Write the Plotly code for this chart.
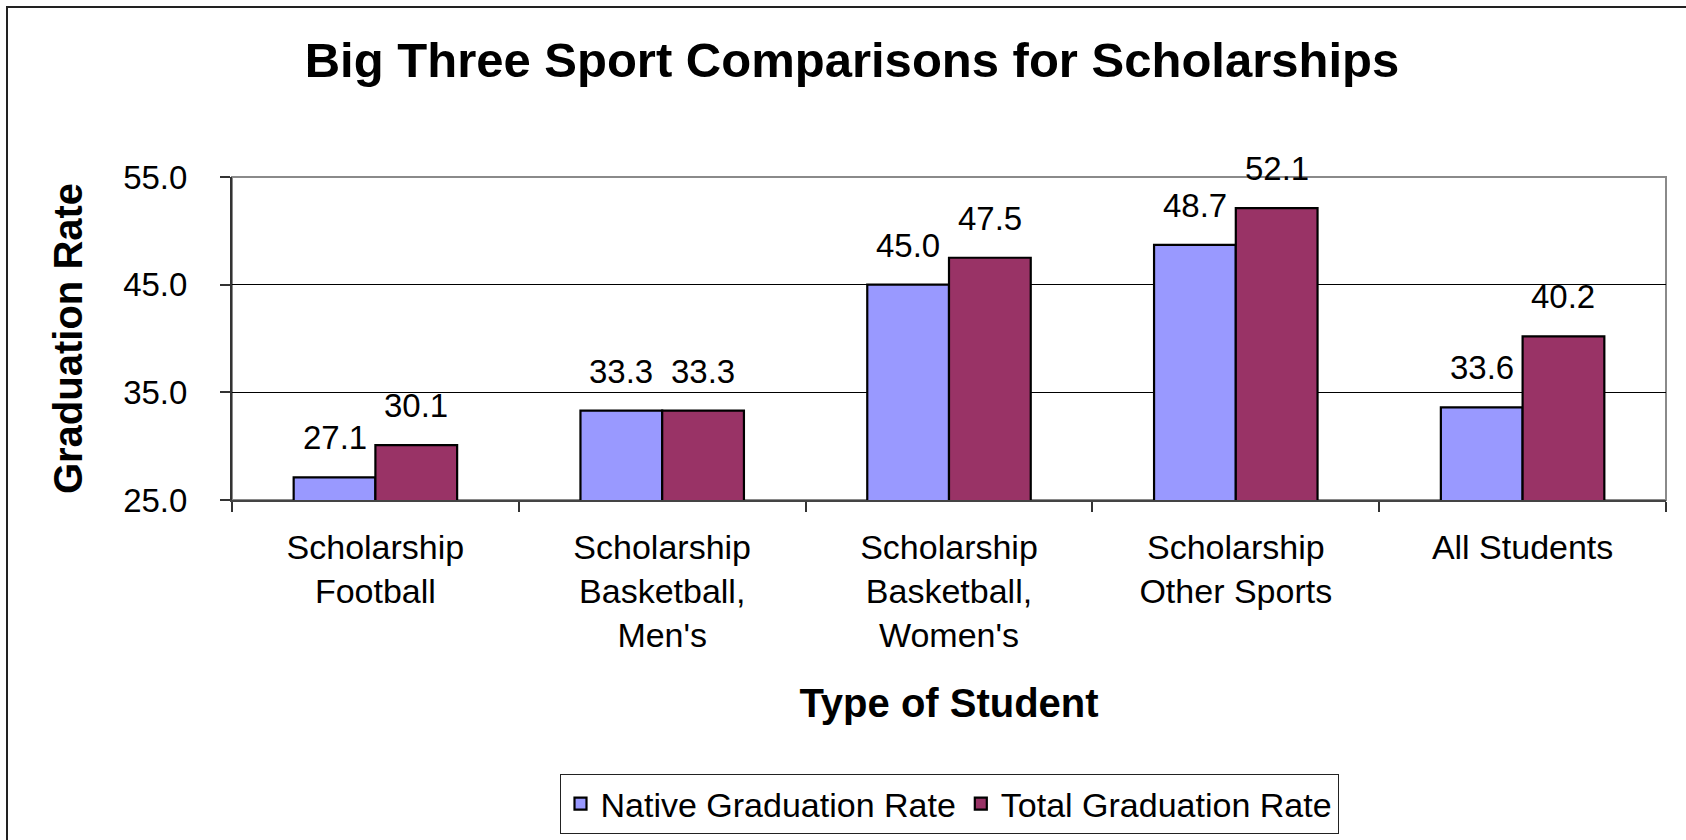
import plotly.graph_objects as go

categories = ["Scholarship<br>Football", "Scholarship<br>Basketball,<br>Men's",
              "Scholarship<br>Basketball,<br>Women's", "Scholarship<br>Other Sports",
              "All Students"]
native = [27.1, 33.3, 45.0, 48.7, 33.6]
total = [30.1, 33.3, 47.5, 52.1, 40.2]
series_names = ["Native Graduation Rate", "Total Graduation Rate"]
tick_vals = [25, 35, 45, 55]

FONT = "Liberation Sans, Arial, sans-serif"
BLUE = "#9999FF"
RED = "#993366"

W, H = 1686, 840
ML, MR, MT, MB = 232, 20, 177, 340
BARGAP = 0.43

fig = go.Figure()
fig.add_trace(go.Bar(x=categories, y=native, name=series_names[0],
                     marker=dict(color=BLUE, line=dict(color="black", width=2.2))))
fig.add_trace(go.Bar(x=categories, y=total, name=series_names[1],
                     marker=dict(color=RED, line=dict(color="black", width=2.2))))

# data labels centred on each bar
cat_w = (W - ML - MR) / len(categories)
half_bar = cat_w * (1 - BARGAP) / 4
for vals, sh in ((native, -half_bar), (total, half_bar)):
    for c, v in zip(categories, vals):
        fig.add_annotation(x=c, y=v, text=f"{v:.1f}", showarrow=False,
                           xshift=sh, yshift=19, yanchor="bottom",
                           font=dict(family=FONT, size=33, color="black"))

# plot area border (grey)
fig.add_shape(type="rect", xref="paper", yref="paper", x0=0, x1=1, y0=0, y1=1,
              line=dict(color="#8a8a8a", width=2), layer="below")
# outer chart frame
pw, ph = W - ML - MR, H - MT - MB
fig.add_shape(type="rect", xref="paper", yref="paper",
              x0=(7 - ML) / pw, x1=(W + 10 - ML) / pw,
              y0=(H - MB - (H + 10)) / ph, y1=(H - MB - 7) / ph,
              line=dict(color="#222222", width=2))

fig.update_layout(
    width=W, height=H,
    margin=dict(l=ML, r=MR, t=MT, b=MB, autoexpand=False),
    paper_bgcolor="white", plot_bgcolor="white",
    barmode="group", bargap=BARGAP, bargroupgap=0,
    font=dict(family=FONT, color="black"),
    title=dict(text="<b>Big Three Sport Comparisons for Scholarships</b>",
               x=852 / W, xanchor="center", y=1 - 60 / H, yanchor="middle",
               font=dict(family=FONT, size=49, color="black")),
    showlegend=True,
    legend=dict(orientation="h", x=0.5, xanchor="center",
                y=(H - MB - 774) / ph, yanchor="top",
                bordercolor="#222222", borderwidth=1, bgcolor="white",
                font=dict(family=FONT, size=34, color="black"),
                traceorder="normal"),
)

fig.update_xaxes(
    type="category", tickson="boundaries", ticks="outside", ticklen=10,
    tickcolor="#333333", tickwidth=1.5,
    showline=True, linecolor="#444444", linewidth=2,
    tickfont=dict(family=FONT, size=34, color="black"),
    ticklabelstandoff=16, automargin=False,
    title=dict(text="<b>Type of Student</b>", standoff=36,
               font=dict(family=FONT, size=40, color="black")),
)
fig.update_yaxes(
    range=[25, 55], tickvals=tick_vals, tickformat=".1f",
    ticks="outside", ticklen=10, tickcolor="#333333", tickwidth=1.5,
    showline=True, linecolor="#333333", linewidth=2,
    showgrid=True, gridcolor="black", gridwidth=1, zeroline=False,
    tickfont=dict(family=FONT, size=33, color="black"),
    ticklabelstandoff=26, automargin=False,
    title=dict(text="<b>Graduation Rate</b>", standoff=28,
               font=dict(family=FONT, size=40, color="black")),
)

fig.write_html("out.html",
               config={"displayModeBar": False},
               post_script="document.body.style.margin='0';document.body.style.padding='0';")
